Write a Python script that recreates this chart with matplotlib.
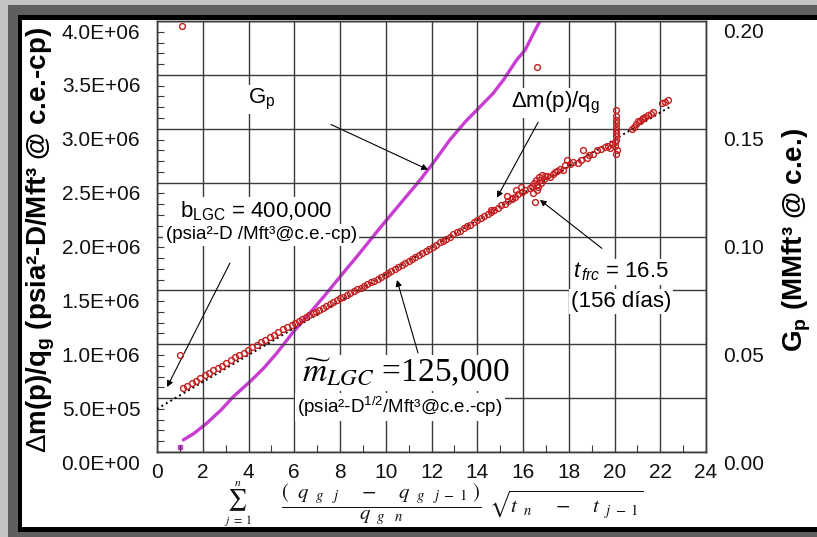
import numpy as np
import matplotlib
matplotlib.use("Agg")
import matplotlib.pyplot as plt
from matplotlib.patches import Rectangle
from matplotlib.transforms import ScaledTranslation

plt.rcParams['font.family'] = ['Liberation Sans', 'DejaVu Sans']
plt.rcParams['mathtext.fontset'] = 'custom'
plt.rcParams['mathtext.rm'] = 'Liberation Sans'
plt.rcParams['mathtext.it'] = 'Liberation Sans:italic'
plt.rcParams['mathtext.bf'] = 'Liberation Sans:bold'

# ---- data -------------------------------------------------------------
# superposition time function (x) and normalised pseudo-pressure drop (millions)
sup_time = [1.13, 1.32, 1.51, 1.70, 1.89, 2.08, 2.27, 2.46, 2.65, 2.84, 3.03, 3.22, 3.41,
            3.60, 3.79, 3.98, 4.17, 4.36, 4.55, 4.74, 4.93, 5.12, 5.31, 5.50, 5.69, 5.88,
            6.05, 6.20, 6.35, 6.50, 6.65, 6.80, 6.95, 7.10, 7.25, 7.40, 7.55, 7.70, 7.85,
            8.00, 8.15, 8.30, 8.45, 8.60, 8.75, 8.90, 9.05, 9.20, 9.35, 9.50, 9.65, 9.80, 9.95,
            10.10, 10.25, 10.40, 10.55, 10.70, 10.85, 11.00, 11.15, 11.30, 11.45, 11.60, 11.75,
            11.90, 12.05, 12.20, 12.35, 12.50, 12.65, 12.80, 12.95, 13.10, 13.25, 13.40, 13.55,
            13.70, 13.85, 14.00, 14.15, 14.30, 14.45, 14.60, 14.75, 14.90, 15.05, 15.20, 15.35,
            15.50, 15.65, 15.80, 15.95, 16.10,
            15.30, 15.70, 15.90, 14.60, 15.50,
            16.30, 16.40, 16.45, 16.50, 16.52, 16.55, 16.60, 16.62, 16.67, 16.70, 16.74, 16.80,
            16.85, 16.90, 16.95,
            17.05, 17.18, 17.30, 17.40, 17.50, 17.62, 17.76, 17.84, 17.91, 18.05, 18.20, 18.42,
            18.55, 18.64, 18.78, 18.90, 19.05, 19.22, 19.40, 19.58, 19.70, 19.80, 19.90,
            20.00, 20.02, 20.05, 20.05, 20.05, 20.05, 20.05, 20.05, 20.05, 20.07, 20.05, 20.10, 20.08,
            20.75, 20.85, 20.95, 21.04, 21.12, 21.20, 21.26, 21.35, 21.48, 21.58, 21.70, 22.06,
            22.20, 22.35,
            1.09, 1.00, 16.62]
dmq_millions = [0.59, 0.615, 0.64, 0.66, 0.69, 0.71, 0.73, 0.76, 0.78, 0.80, 0.83, 0.85, 0.88,
                0.90, 0.92, 0.95, 0.97, 0.99, 1.02, 1.04, 1.07, 1.09, 1.11, 1.14, 1.16, 1.18,
                1.20, 1.22, 1.23, 1.25, 1.27, 1.29, 1.30, 1.32, 1.34, 1.355, 1.37, 1.39, 1.41,
                1.425, 1.44, 1.46, 1.475, 1.49, 1.51, 1.52, 1.54, 1.56, 1.575, 1.59, 1.61, 1.625, 1.645,
                1.66, 1.68, 1.70, 1.72, 1.74, 1.755, 1.775, 1.79, 1.81, 1.83, 1.85, 1.87,
                1.885, 1.905, 1.925, 1.945, 1.96, 1.98, 2.00, 2.02, 2.04, 2.055, 2.075, 2.095,
                2.11, 2.13, 2.15, 2.17, 2.19, 2.21, 2.225, 2.25, 2.265, 2.29, 2.305, 2.33,
                2.35, 2.37, 2.39, 2.41, 2.43,
                2.38, 2.43, 2.46, 2.25, 2.36,
                2.45, 2.47, 2.40, 2.50, 2.32, 2.52, 2.48, 2.43, 2.46, 2.55, 2.52, 2.50,
                2.57, 2.53, 2.56,
                2.56, 2.55, 2.58, 2.60, 2.61, 2.63, 2.62, 2.66, 2.71, 2.67, 2.69, 2.68,
                2.71, 2.80, 2.73, 2.76, 2.77, 2.80, 2.81, 2.83, 2.84, 2.82, 2.86,
                2.84, 2.88, 3.17, 3.12, 3.08, 3.05, 3.02, 2.99, 2.96, 2.93, 2.90, 2.80, 2.77,
                3.00, 3.02, 3.04, 3.07, 3.07, 3.09, 3.10, 3.11, 3.13, 3.14, 3.16, 3.24,
                3.25, 3.27,
                3.95, 0.90, 3.57]

# straight-line fit: intercept b_LGC and slope m_LGC
b_lgc = 400000
m_lgc = 125000
fit_x = [0.0, 22.5]

# cumulative gas production (MMft3 @ c.e.)
gp_time = [1.15, 1.6, 2.17, 2.8, 3.34, 4.14, 4.7, 5.23, 5.95, 6.6, 7.3, 8.0, 8.8, 9.75,
           10.6, 11.5, 12.1, 12.8, 13.5, 14.27, 14.7, 15.14, 15.72, 16.09, 16.4, 16.74, 16.85]
gp = [0.0056, 0.0085, 0.0133, 0.0195, 0.0257, 0.0334, 0.0393, 0.0458, 0.0556, 0.0635, 0.0722,
      0.0813, 0.0915, 0.1040, 0.1148, 0.1262, 0.1345, 0.1448, 0.1535, 0.1618, 0.1665, 0.1726,
      0.1819, 0.1865, 0.1930, 0.2000, 0.2025]
gp_first_time = [1.0]
gp_first = [0.0023]

x_ticks = list(range(0, 25, 2))
y_ticks = [0, 5e5, 1e6, 1.5e6, 2e6, 2.5e6, 3e6, 3.5e6, 4e6]
y2_ticks = [0.0, 0.05, 0.10, 0.15, 0.20]

# ---- figure -----------------------------------------------------------
W, H = 817, 537
fig = plt.figure(figsize=(W / 100, H / 100), dpi=100)


def px(x, y):
    """figure-pixel position (from top-left) to figure fraction"""
    return x / W, 1 - y / H


def frame_rect(x0, y0, x1, y1, color):
    fig.patches.append(Rectangle(px(x0, y1), (x1 - x0) / W, (y1 - y0) / H,
                                 transform=fig.transFigure, facecolor=color,
                                 edgecolor='none', zorder=-10))


frame_rect(0, 0, W, H, '#c4c4c4')
frame_rect(8, 5, W, H, '#5f5f5f')
frame_rect(18, 15, W, 532, '#000000')
frame_rect(22, 20, W, 527, '#ffffff')

ax = fig.add_axes([157 / W, 1 - 452 / H, (706 - 157) / W, (452 - 21) / H])
ax2 = ax.twinx()
ax.set_zorder(ax2.get_zorder() + 1)
ax.patch.set_visible(False)

ax.set_xlim(0, 24)
ax.set_ylim(0, 4e6)
ax2.set_ylim(0, 0.20)

grid_c = '#3a3a3a'
ax.set_xticks(x_ticks)
ax.set_xticklabels([str(v) for v in x_ticks])
ax.set_yticks(y_ticks)
ax.set_yticklabels(['{:.1E}'.format(v) for v in y_ticks])
ax.set_xticks(list(range(1, 24, 2)), minor=True)
ax.set_yticks(np.arange(1e5, 4e6, 1e5), minor=True)
ax.grid(True, which='major', color=grid_c, lw=1.0)
ax.tick_params(which='major', length=0, labelsize=15, colors='#111111')
ax.tick_params(axis='y', which='major', pad=12)
ax.tick_params(axis='x', which='major', pad=8)
ax.tick_params(which='minor', direction='in', length=5, width=0.8, color=grid_c)

ax2.set_yticks(y2_ticks)
ax2.set_yticklabels(['{:.2f}'.format(v) for v in y2_ticks])
ax2.tick_params(length=0, labelsize=15, pad=12, colors='#111111')

shift = ScaledTranslation(0, -0.10, fig.dpi_scale_trans)
for lab in ax.get_yticklabels() + ax2.get_yticklabels():
    lab.set_transform(lab.get_transform() + shift)
for a in (ax, ax2):
    for s in a.spines.values():
        s.set_color(grid_c)
        s.set_linewidth(1.0)

# series
ax2.plot(gp_time, gp, color='#c83cd2', lw=2.4, solid_capstyle='round', clip_on=True)
ax2.plot(gp_first_time, gp_first, 's', color='#c83cd2', ms=3.5)

fit_y = [b_lgc + m_lgc * v for v in fit_x]
ax.plot(fit_x, fit_y, ':', color='black', lw=1.4, zorder=3)
ax.plot(sup_time, np.array(dmq_millions) * 1e6, 'o', mfc='none', mec='#c41e1e',
        ms=4.2, mew=1.0, zorder=4, clip_on=False)

# annotations
box = dict(facecolor='white', edgecolor='none', pad=1.5)
arrow = dict(arrowstyle='-|>', color='black', lw=0.8, mutation_scale=9,
             shrinkA=0, shrinkB=0)

ax.text(4.59, 3.27e6, r'G$_\mathrm{p}$', fontsize=16, ha='center', va='center', bbox=box)
ax.annotate('', xy=(11.85, 0.131), xycoords=ax2.transData,
            xytext=(7.6, 3.04e6), textcoords='data', arrowprops=arrow)

ax.text(17.44, 3.24e6, r'$\Delta$m(p)/q$_\mathrm{g}$', fontsize=16, ha='center',
        va='center', bbox=box)
ax.annotate('', xy=(14.86, 2.36e6), xytext=(16.66, 3.06e6), arrowprops=arrow)

ax.text(20.28, 1.67e6, r'$\mathit{t}_{\,frc}$ = 16.5', fontsize=16, ha='center',
        va='center', bbox=box)
ax.text(20.28, 1.40e6, '(156 días)', fontsize=16, ha='center', va='center', bbox=box)
ax.annotate('', xy=(16.74, 2.34e6), xytext=(19.45, 1.89e6), arrowprops=arrow)

ax.text(4.33, 2.237e6, r'b$_\mathrm{LGC}$ = 400,000', fontsize=16, ha='center',
        va='center', bbox=box)
ax.text(4.55, 2.014e6, '(psia²-D /Mft³@c.e.-cp)', fontsize=13.5, ha='center',
        va='center', bbox=box)
ax.annotate('', xy=(0.44, 0.603e6), xytext=(3.19, 1.754e6), arrowprops=arrow)

ax.text(10.89, 0.733e6, r'$\widetilde{m}_{LGC}$ =125,000', fontsize=24,
        family='Liberation Serif', math_fontfamily='stix', ha='center', va='center', bbox=box)
ax.text(10.62, 0.418e6, r'(psia²-D$^{1/2}$/Mft³@c.e.-cp)', fontsize=13.5, ha='center',
        va='center', bbox=box)
ax.annotate('', xy=(10.49, 1.596e6), xytext=(11.41, 0.919e6), arrowprops=arrow)

# axis titles
fig.text(*px(41, 240), r'$\Delta$m(p)/q$_\mathbf{g}$ (psia²-D/Mft³ @ c.e.-cp)',
         rotation=90, fontsize=20, fontweight='bold', ha='center', va='center')
fig.text(*px(797, 240), r'G$_\mathbf{p}$ (MMft³ @ c.e.)',
         rotation=90, fontsize=20, fontweight='bold', ha='center', va='center')

# superposition-time expression under the x axis
serif = dict(math_fontfamily='stix', ha='center', va='center', color='#111111')
fig.text(*px(237, 500), r'$\sum$', fontsize=15, **serif)
fig.text(*px(238, 483), r'$n$', fontsize=8.5, **serif)
fig.text(*px(238, 521), r'$j\ =\ 1$', fontsize=8.5, **serif)
fig.text(*px(381, 504),
         r'$\dfrac{(\ \ q_{\ \ g\ \ \ j}\ \ \ \ -\ \ \ \ q_{\ \ g\ \ \ j\ -\ 1}\ )}'
         r'{q_{\ \ g\ \ \ n}}$', fontsize=15, **serif)
fig.text(*px(566, 504), r'$\sqrt{t_{\ \ n}\ \ \ \ -\ \ \ \ t_{\ \ j\ -\ 1}}$',
         fontsize=15, **serif)

fig.savefig('out.png', dpi=100)
